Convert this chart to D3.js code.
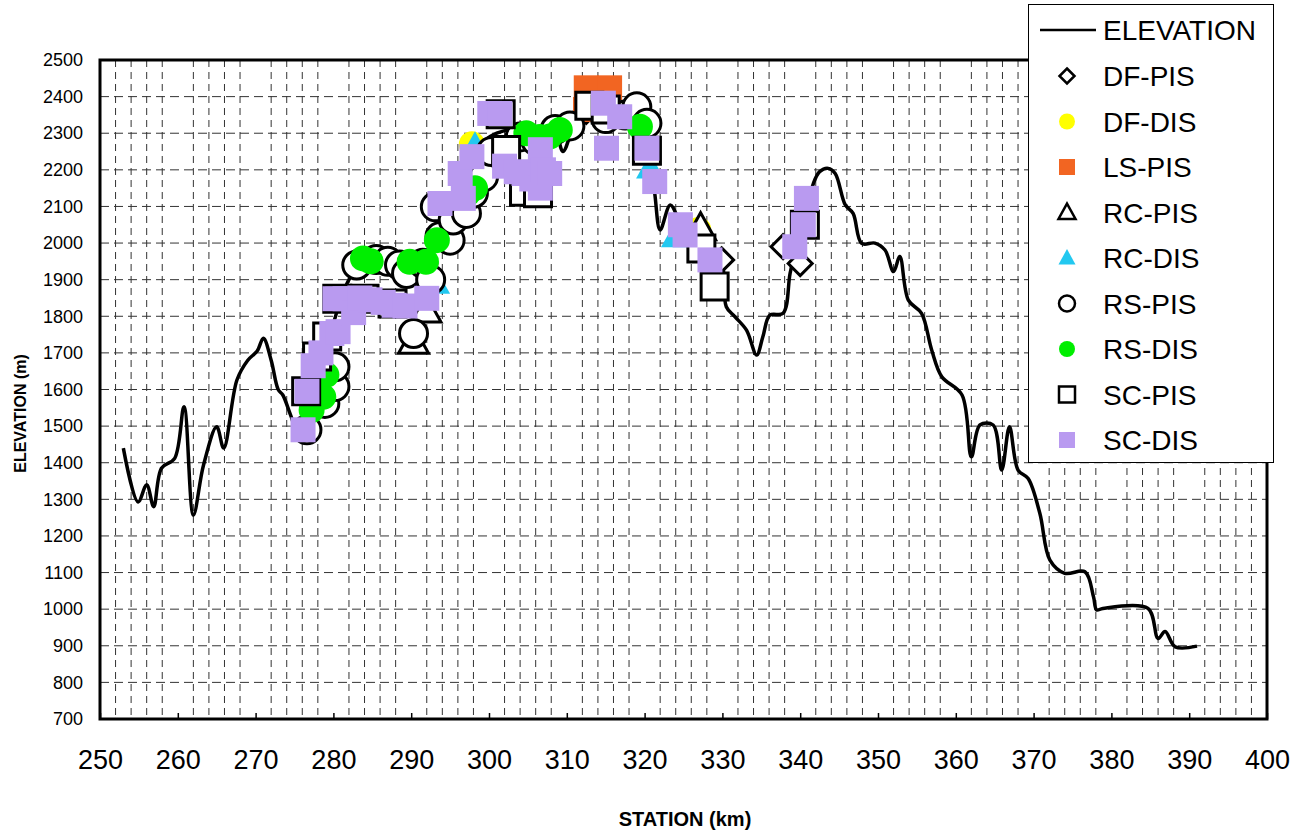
<!DOCTYPE html>
<html>
<head>
<meta charset="utf-8">
<script src="https://cdn.jsdelivr.net/npm/d3@7"></script>
<style>
  body { margin: 0; background: #fff; }
  text { font-family: Arial, "Liberation Sans", sans-serif; }
</style>
</head>
<body>
<script>
// elevation profile [station km, elevation m]
const elevation = [
  [253.0,1440],[254.9,1293],[256.0,1340],[256.9,1280],[257.9,1385],[259.6,1412],
  [260.8,1553],[262.0,1257],[263.3,1393],[265.0,1498],[265.9,1440],[267.6,1626],
  [269.0,1680],[270.2,1705],[271.0,1740],[272.0,1680],[272.9,1600],[273.5,1585],
  [274.5,1530],[275.3,1490],[276.0,1490],[277.0,1560],[278.0,1640],[279.0,1710],
  [280.0,1780],[281.0,1850],[282.0,1900],[283.0,1930],[284.0,1950],[286.0,1960],
  [288.0,1950],[290.0,1950],[291.5,1960],[293.0,2000],[294.0,2060],[295.0,2110],
  [296.5,2160],[298.0,2230],[299.5,2280],[301.0,2300],[303.0,2310],[305.0,2300],
  [307.0,2290],[308.5,2300],[309.5,2250],[310.5,2300],[311.5,2370],[312.5,2390],
  [313.5,2380],[315.0,2350],[316.5,2340],[318.0,2330],[319.5,2310],[320.5,2260],
  [321.3,2136],[322.0,2036],[323.3,2104],[324.5,2060],[325.5,2030],[326.9,2058],
  [327.5,2036],[328.5,1990],[329.9,1954],[330.5,1826],[331.6,1799],[333.1,1762],
  [334.4,1694],[335.2,1744],[336.1,1803],[337.8,1808],[338.7,1917],[339.5,1990],
  [340.5,2060],[341.7,2163],[342.5,2195],[343.6,2204],[344.5,2190],[345.8,2104],
  [346.8,2081],[347.9,1999],[349.6,2000],[350.9,1981],[352.0,1922],[352.8,1963],
  [353.9,1844],[355.6,1808],[356.9,1708],[358.2,1635],[360.8,1585],[362.0,1416],
  [363.1,1503],[364.8,1503],[365.9,1380],[366.9,1498],[368.0,1380],[369.3,1357],
  [370.8,1262],[372.1,1134],[374.0,1098],[376.6,1102],[377.7,1034],[378.1,998],
  [378.9,1002],[384.7,1002],[386.0,920],[386.9,939],[388.2,897],[391.0,899]
]

const dfPis = [[312.5,2360],[329.9,1954],[337.8,1990],[340.0,1944]]
const dfDis = [[297.8,2270],[326.9,2036]]
const lsPis = [[312.5,2424],[315.5,2424],[312.4,2365]]
const rcPis = [[290.3,1730],[291.9,1815],[305.6,2150],[327.2,2040]]
const rcDis = [[293.2,1890],[298.2,2265],[320.7,2205],[323.9,2017]]
const rsPis = [
  [276.6,1490],[278.9,1562],[280.2,1608],[280.2,1662],[283.0,1940],[285.5,1955],
  [287.0,1950],[288.5,1940],[289.4,1917],[290.3,1753],[291.5,1945],[292.5,1900],
  [293.1,2099],[293.7,2018],[295.0,2008],[295.4,2063],[297.1,2081],[298.0,2136],
  [299.3,2181],[300.3,2250],[304.0,2290],[306.0,2280],[308.5,2310],[310.4,2320],
  [315.0,2340],[317.5,2350],[319.0,2372],[320.3,2327]
]
const rsDis = [
  [277.2,1544],[278.7,1580],[279.1,1640],[283.8,1958],[284.8,1950],[289.8,1949],
  [291.9,1949],[293.3,2008],[297.3,2136],[298.2,2150],[304.8,2300],[306.5,2290],
  [307.8,2291],[309.1,2309],[319.4,2318]
]
const scPis = [
  [276.5,1595],[277.9,1690],[279.2,1745],[280.5,1848],[284.0,1848],[287.6,1835],
  [301.5,2352],[302.2,2254],[304.5,2140],[306.3,2136],[312.9,2375],[315.0,2365],
  [320.3,2252],[327.3,1985],[329.0,1881],[340.6,2050]
]
const scDis = [
  [276.1,1490],[276.6,1595],[277.4,1665],[278.4,1700],[279.8,1753],[280.6,1758],
  [280.2,1848],[281.5,1848],[282.6,1810],[283.4,1850],[284.7,1845],[286.4,1838],
  [287.8,1830],[289.2,1828],[292.0,1849],[293.7,2108],[296.7,2122],[296.3,2190],
  [297.8,2236],[300.1,2354],[301.4,2354],[302.0,2210],[303.5,2195],[304.5,2190],
  [305.5,2175],[306.6,2150],[306.6,2255],[307.0,2200],[307.8,2190],[314.7,2382],
  [316.8,2345],[315.1,2259],[320.3,2259],[321.3,2168],[324.6,2050],[325.2,2022],
  [328.4,1954],[339.3,1990],[340.4,2050],[340.8,2122]
]

const xTicks = d3.range(250, 401, 10)
const yTicks = d3.range(700, 2501, 100)

const series = [
  { name: 'DF-PIS', data: dfPis, shape: 'diamond', fill: '#fff', stroke: '#000' },
  { name: 'DF-DIS', data: dfDis, shape: 'circle', fill: '#ffff00', stroke: 'none' },
  { name: 'LS-PIS', data: lsPis, shape: 'square', fill: '#f26522', stroke: 'none' },
  { name: 'RC-PIS', data: rcPis, shape: 'triangle', fill: '#fff', stroke: '#000' },
  { name: 'RC-DIS', data: rcDis, shape: 'triangle', fill: '#22c8f0', stroke: 'none' },
  { name: 'RS-PIS', data: rsPis, shape: 'circle', fill: '#fff', stroke: '#000' },
  { name: 'RS-DIS', data: rsDis, shape: 'circle', fill: '#00ee00', stroke: 'none' },
  { name: 'SC-PIS', data: scPis, shape: 'square', fill: '#fff', stroke: '#000' },
  { name: 'SC-DIS', data: scDis, shape: 'square', fill: '#b99af0', stroke: 'none' }
]

const W = 1297, H = 835
const x = d3.scaleLinear([250, 400], [100, 1267])
const y = d3.scaleLinear([700, 2500], [719, 60])

const svg = d3.select('body').append('svg')
  .attr('width', W).attr('height', H)

svg.append('rect').attr('width', W).attr('height', H).attr('fill', '#fff')

// grid
const grid = svg.append('g').attr('stroke', '#333').attr('stroke-width', 1)
grid.selectAll('line.h')
  .data(yTicks.filter(v => v > 700 && v < 2500))
  .join('line')
  .attr('x1', x(250)).attr('x2', x(400))
  .attr('y1', d => y(d)).attr('y2', d => y(d))
  .attr('stroke-dasharray', '9,5')
grid.selectAll('line.v')
  .data(d3.range(252, 400, 2).filter(v => v % 10 !== 0))
  .join('line')
  .attr('x1', d => x(d)).attr('x2', d => x(d))
  .attr('y1', y(2500)).attr('y2', y(700))
  .attr('stroke-dasharray', '7,5')

// axes
const xAxis = svg.append('g')
  .attr('transform', `translate(0,${y(700)})`)
  .call(d3.axisBottom(x).tickValues(xTicks).tickSize(-6).tickPadding(31).tickFormat(d3.format('d')))
xAxis.select('.domain').remove()
xAxis.selectAll('line').attr('stroke', '#000').attr('stroke-width', 1.5)
xAxis.selectAll('text').attr('font-size', 27).attr('fill', '#000')
  .style('font-family', 'Arial, "Liberation Sans", sans-serif')

const yAxis = svg.append('g')
  .attr('transform', `translate(${x(250)},0)`)
  .call(d3.axisLeft(y).tickValues(yTicks).tickSize(0).tickPadding(17).tickFormat(d3.format('d')))
yAxis.select('.domain').remove()
yAxis.selectAll('text').attr('font-size', 18).attr('fill', '#000')
  .style('font-family', 'Arial, "Liberation Sans", sans-serif')

svg.append('rect')
  .attr('x', x(250)).attr('y', y(2500))
  .attr('width', x(400) - x(250)).attr('height', y(700) - y(2500))
  .attr('fill', 'none').attr('stroke', '#000').attr('stroke-width', 3)

svg.append('text')
  .attr('transform', `translate(26,${(y(700) + y(2500)) / 2 + 24}) rotate(-90)`)
  .attr('text-anchor', 'middle').attr('font-weight', 'bold').attr('font-size', 16)
  .text('ELEVATION (m)')
svg.append('text')
  .attr('x', 685).attr('y', 826)
  .attr('text-anchor', 'middle').attr('font-weight', 'bold').attr('font-size', 20)
  .text('STATION (km)')

// elevation line
svg.append('path')
  .datum(elevation)
  .attr('fill', 'none').attr('stroke', '#000').attr('stroke-width', 3.5)
  .attr('stroke-linejoin', 'round')
  .attr('d', d3.line().x(d => x(d[0])).y(d => y(d[1])).curve(d3.curveCatmullRom.alpha(0.5)))

function shapePath (shape, cx, cy, s) {
  const r = s / 2
  if (shape === 'diamond') return `M${cx},${cy - r}L${cx + r},${cy}L${cx},${cy + r}L${cx - r},${cy}Z`
  if (shape === 'triangle') return `M${cx},${cy - r * 1.05}L${cx + r},${cy + r * 0.75}L${cx - r},${cy + r * 0.75}Z`
  if (shape === 'square') return `M${cx - r},${cy - r}h${s}v${s}h${-s}Z`
  return `M${cx - r},${cy}a${r},${r} 0 1,0 ${s},0a${r},${r} 0 1,0 ${-s},0Z`
}

// plot marker sizes
const plotSize = { diamond: 24, circle: 28, square: 27, triangle: 30 }

series.forEach(s => {
  const outline = s.stroke !== 'none'
  const size = plotSize[s.shape] + (outline ? 0 : -2)
  svg.append('g').selectAll('path')
    .data(s.data)
    .join('path')
    .attr('d', d => shapePath(s.shape, x(d[0]), y(d[1]), size))
    .attr('fill', s.fill)
    .attr('stroke', s.stroke)
    .attr('stroke-width', outline ? 3 : 0)
})

// legend
const lg = svg.append('g')
lg.append('rect')
  .attr('x', 1028.5).attr('y', 4.5).attr('width', 245).attr('height', 458)
  .attr('fill', '#fff').attr('stroke', '#000').attr('stroke-width', 1)
lg.append('line')
  .attr('x1', 1040).attr('x2', 1096).attr('y1', 30).attr('y2', 30)
  .attr('stroke', '#000').attr('stroke-width', 2.5)
lg.append('text').attr('x', 1103).attr('y', 40).attr('font-size', 28).text('ELEVATION')

const legendSize = { diamond: 15, circle: 16, square: 16, triangle: 17 }
series.forEach((s, i) => {
  const cy = 76 + i * 45.5
  lg.append('path')
    .attr('d', shapePath(s.shape, 1067, cy, legendSize[s.shape]))
    .attr('fill', s.fill).attr('stroke', s.stroke)
    .attr('stroke-width', s.stroke === 'none' ? 0 : 2.5)
  lg.append('text').attr('x', 1103).attr('y', cy + 10).attr('font-size', 28).text(s.name)
})
</script>
</body>
</html>
